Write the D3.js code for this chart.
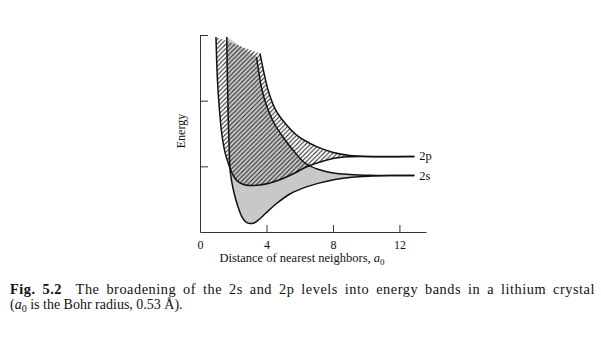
<!DOCTYPE html>
<html><head><meta charset="utf-8">
<script src="https://cdn.jsdelivr.net/npm/d3@7"></script>
<style>body{margin:0;background:#fff} svg{display:block}</style>
</head><body>
<svg id="c" width="601" height="338"></svg>
<script>
// ---- data (distance in a0, energy in arbitrary units) ----
const xTickValues = [0, 4, 8, 12];
const yTickValues = [1, 2, 3];
const levelNames = ["2p", "2s"];
const levelEnergy = [1.15, 0.86];
const levelEnd = 12.9;

// 2p band lower edge
const p2LowDist   = [0.96, 1.05, 1.17, 1.32, 1.50, 1.68, 1.80, 2.05, 2.35, 2.71, 3.13, 3.61, 4.21, 4.99, 5.71, 6.32, 7.04, 8.00, 9.02, 9.92, 12.9];
const p2LowEnergy = [2.97, 2.315, 1.858, 1.477, 1.218, 1.066, 0.975, 0.838, 0.754, 0.716, 0.708, 0.716, 0.746, 0.815, 0.898, 0.982, 1.051, 1.119, 1.145, 1.15, 1.15];
// 2p band upper edge
const p2UpDist   = [3.61, 3.81, 4.11, 4.51, 5.11, 5.89, 6.62, 7.02, 8.02, 9.02, 10.0, 12.9];
const p2UpEnergy = [2.72, 2.47, 2.15, 1.88, 1.66, 1.46, 1.35, 1.30, 1.21, 1.165, 1.15, 1.15];
// 2s band lower edge
const s2LowDist   = [1.61, 1.65, 1.70, 1.76, 1.80, 1.89, 2.05, 2.29, 2.53, 2.77, 3.01, 3.25, 3.55, 3.97, 4.57, 5.41, 6.32, 7.22, 8.12, 9.14, 10.35, 11.43, 12.9];
const s2LowEnergy = [2.97, 2.315, 1.706, 1.249, 0.975, 0.792, 0.594, 0.381, 0.228, 0.152, 0.129, 0.137, 0.190, 0.289, 0.426, 0.579, 0.680, 0.748, 0.800, 0.835, 0.852, 0.86, 0.86];
// 2s band upper edge
const s2UpDist   = [3.40, 3.52, 3.73, 4.03, 4.45, 4.99, 5.59, 6.32, 7.10, 8.00, 9.02, 10.23, 11.3, 12.9];
const s2UpEnergy = [2.665, 2.467, 2.162, 1.908, 1.660, 1.447, 1.249, 1.051, 0.955, 0.900, 0.877, 0.864, 0.86, 0.86];

// ---- chart ----
const svg = d3.select("#c");
const x = d3.scaleLinear().domain([0, 13.6]).range([200, 426]);
const y = d3.scaleLinear().domain([0, 3]).range([232, 35]);
const serif = "'Liberation Serif','DejaVu Serif',serif";

const defs = svg.append("defs");
defs.append("pattern").attr("id", "hatch").attr("patternUnits", "userSpaceOnUse")
  .attr("width", 4.5).attr("height", 4.5)
  .append("path").attr("d", "M-1,1 l2,-2 M0,4.5 l4.5,-4.5 M3.5,5.5 l2,-2")
  .attr("stroke", "#1a1a1a").attr("stroke-width", 0.95);

const line = d3.line().curve(d3.curveCatmullRom.alpha(0.5));
const pts = (ds, es) => ds.map((d, i) => [x(d), y(es[i])]);
function band(lD, lE, uD, uE) {
  const a = line(pts(lD, lE));
  const b = line(pts(uD, uE).reverse());
  return a + "L" + b.slice(1) + "Z";
}

// 2s band: gray
svg.append("path").attr("d", band(s2LowDist, s2LowEnergy, s2UpDist, s2UpEnergy))
  .attr("fill", "#c8c8c8").attr("stroke", "none");
// 2p band: hatched
svg.append("path").attr("d", band(p2LowDist, p2LowEnergy, p2UpDist, p2UpEnergy))
  .attr("fill", "url(#hatch)").attr("stroke", "none");

// edges
[[p2LowDist, p2LowEnergy], [p2UpDist, p2UpEnergy], [s2LowDist, s2LowEnergy], [s2UpDist, s2UpEnergy]]
  .forEach(([d, e]) => {
    svg.append("path").attr("d", line(pts(d, e)))
      .attr("fill", "none").attr("stroke", "#111").attr("stroke-width", 1.5);
  });

// level labels
svg.selectAll("text.lvl").data(levelNames).join("text").attr("class", "lvl")
  .attr("x", x(levelEnd) + 5).attr("y", (d, i) => y(levelEnergy[i]) + 4)
  .attr("font-family", serif).attr("font-size", 12.5).attr("fill", "#111")
  .text(d => d);

// axes
const xAxis = svg.append("g").attr("transform", `translate(0,${y(0)})`)
  .call(d3.axisBottom(x).tickValues(xTickValues).tickSizeInner(-7).tickSizeOuter(0).tickPadding(8));
xAxis.selectAll(".tick").filter(d => d === 0).select("line").remove();
const yAxis = svg.append("g").attr("transform", `translate(${x(0)},0)`)
  .call(d3.axisLeft(y).tickValues(yTickValues).tickSizeInner(-8).tickSizeOuter(0).tickFormat(""));
[xAxis, yAxis].forEach(g => {
  g.select(".domain").attr("stroke", "#333").attr("stroke-width", 1);
  g.selectAll(".tick line").attr("stroke", "#333").attr("stroke-width", 1);
  g.selectAll("text").attr("font-family", serif).attr("font-size", 12).attr("fill", "#111");
});

// axis titles
const xt = svg.append("text").attr("x", 302).attr("y", 262).attr("text-anchor", "middle")
  .attr("font-family", serif).attr("font-size", 12.5).attr("fill", "#111");
xt.append("tspan").text("Distance of nearest neighbors, ");
xt.append("tspan").attr("font-style", "italic").text("a");
xt.append("tspan").attr("dy", 3).attr("font-size", 9).text("0");

svg.append("text").attr("transform", "translate(185,131) rotate(-90)").attr("text-anchor", "middle")
  .attr("font-family", serif).attr("font-size", 12).attr("fill", "#111").text("Energy");

// caption (line 1 justified to the column width)
const c1 = svg.append("text").attr("x", 10).attr("y", 294)
  .attr("font-family", serif).attr("font-size", 14.3).attr("fill", "#111")
  .attr("letter-spacing", 0.55).style("white-space", "pre");
c1.append("tspan").attr("font-weight", "bold").text("Fig. 5.2");
c1.append("tspan").text("  The broadening of the 2s and 2p levels into energy bands in a lithium crystal");
const natural = c1.node().getComputedTextLength();
const spaces = (c1.text().match(/ /g) || []).length;
c1.attr("word-spacing", Math.max(0, (585 - natural) / spaces));

const c2 = svg.append("text").attr("x", 10).attr("y", 309)
  .attr("font-family", serif).attr("font-size", 14).attr("fill", "#111");
c2.append("tspan").text("(");
c2.append("tspan").attr("font-style", "italic").text("a");
c2.append("tspan").attr("dy", 3).attr("font-size", 10).text("0");
c2.append("tspan").attr("dy", -3).text(" is the Bohr radius, 0.53 \u00c5).");
</script>
</body></html>
